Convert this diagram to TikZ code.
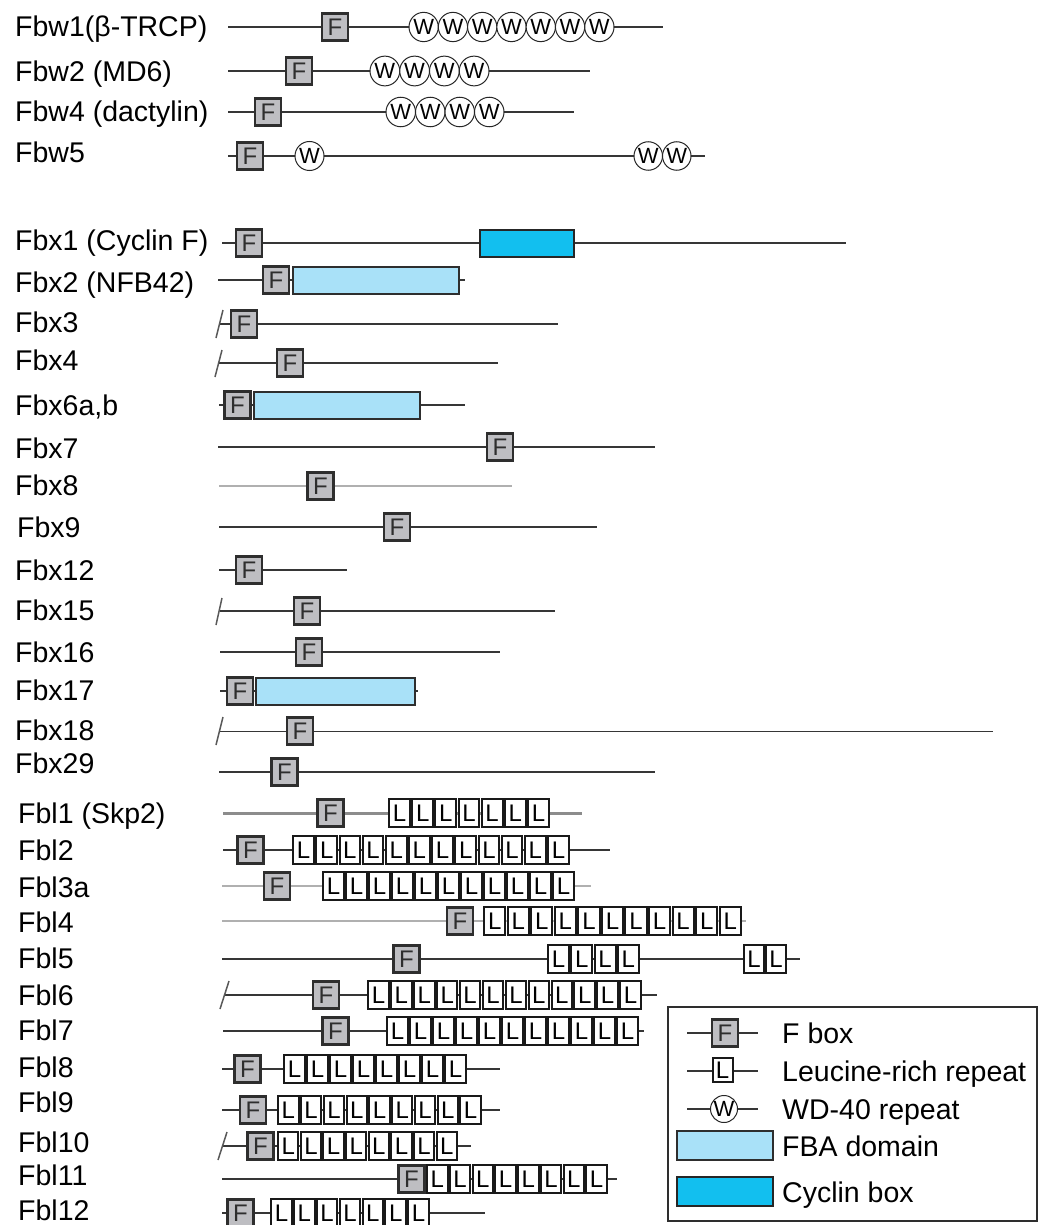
\documentclass[tikz,border=0pt]{standalone}
\usepackage{fontspec}
\setmainfont{Liberation Sans}
\usetikzlibrary{shapes.geometric}
\definecolor{fgray}{HTML}{BEBEC2}
\definecolor{fedge}{HTML}{2E2E2E}
\definecolor{fbacol}{HTML}{A9E1F8}
\definecolor{cyccol}{HTML}{12BFEF}
\definecolor{linecol}{HTML}{363636}
\definecolor{lightline}{HTML}{B0B0B0}
\definecolor{midline}{HTML}{8C8C8C}
\newcommand\backbone[5]{\coordinate (#1s) at (#2,#4); \coordinate (#1e) at (#3,#4); \draw[bb,#5] (#1s) -- (#1e);}
\newcommand\fdom[3]{\node[fbx] (#1F) at (#2,#3) {F};}
\newcommand\lrep[5]{\pgfmathsetmacro\lp{(#3-#2)/#4}\foreach \i in {1,...,#4}{\node[lbx,minimum width=\lp pt-2.4pt] (#1L\i) at ({#2+(\i-0.5)*\lp},#5) {L};}}
\newcommand\wrep[5]{\pgfmathsetmacro\wp{(#3-#2)/#4}\foreach \i in {1,...,#4}{\node[wcirc,minimum size=\wp pt] (#1W\i) at ({#2+(\i-0.5)*\wp},#5) {W};}}
\newcommand\brk[5]{\coordinate (#1a) at (#2,#3); \coordinate (#1b) at (#4,#5); \draw[slashln] (#1a) -- (#1b);}
\begin{document}
\begin{tikzpicture}[x=1pt,y=-1pt,
  lab/.style={anchor=base west,inner sep=0pt,font=\fontsize{28.5}{30}\selectfont},
  bb/.style={draw=linecol,line width=2.2pt},
  fbx/.style={draw=fedge,fill=fgray,line width=2.2pt,minimum width=26pt,minimum height=27pt,inner sep=0pt,font=\fontsize{24}{24}\selectfont,text=fedge},
  lbx/.style={draw=black!90,fill=white,line width=2pt,minimum height=28pt,inner sep=0pt,font=\fontsize{24}{24}\selectfont},
  wcirc/.style={circle,draw=black!85,fill=white,line width=1pt,inner sep=0pt,font=\fontsize{22}{22}\selectfont},
  fba/.style={draw=fedge,fill=fbacol,line width=2pt,minimum height=27pt,inner sep=0pt},
  cyc/.style={draw=black!85,fill=cyccol,line width=2pt,minimum height=27pt,inner sep=0pt},
  slashln/.style={draw=black!65,line width=1.5pt},
  legbox/.style={draw=fedge,line width=1.5pt}]
\useasboundingbox (0,0) rectangle (1039,1225);
% ---------- Fbw ----------
\node[lab] (fbw1lab) at (15,37) {Fbw1(β-TRCP)};
\backbone{fbw1}{228}{663}{27}{line width=2.6pt}
\fdom{fbw1}{335}{27}
\wrep{fbw1}{409}{614}{7}{27}
\node[lab] (fbw2lab) at (15,82) {Fbw2 (MD6)};
\backbone{fbw2}{228}{590}{71}{line width=1.5pt}
\fdom{fbw2}{299}{71}
\wrep{fbw2}{370}{489}{4}{71}
\node[lab] (fbw4lab) at (15,122) {Fbw4 (dactylin)};
\backbone{fbw4}{228}{574}{112}{}
\fdom{fbw4}{268}{112}
\wrep{fbw4}{386}{504}{4}{112}
\node[lab] (fbw5lab) at (15,163) {Fbw5};
\backbone{fbw5}{228}{705}{156}{line width=1.6pt}
\fdom{fbw5}{250}{156}
\wrep{fbw5a}{295}{324}{1}{156}
\wrep{fbw5b}{634}{691}{2}{156}
% ---------- Fbx ----------
\node[lab] (fbx1lab) at (15,250) {Fbx1 (Cyclin F)};
\backbone{fbx1}{222}{846}{243}{}
\fdom{fbx1}{249}{243}
\node[cyc,minimum width=94pt] (fbx1C) at (527,243) {};
\node[lab] (fbx2lab) at (15,292) {Fbx2 (NFB42)};
\backbone{fbx2}{218}{465}{280}{line width=1.5pt}
\fdom{fbx2}{276}{280}
\node[fba,minimum width=166pt] (fbx2A) at (376,280) {};
\node[lab] (fbx3lab) at (15,332) {Fbx3};
\backbone{fbx3}{220}{558}{324}{}
\brk{fbx3}{216}{338}{223}{310}
\fdom{fbx3}{244}{324}
\node[lab] (fbx4lab) at (15,370) {Fbx4};
\backbone{fbx4}{218}{498}{363}{line width=1.6pt}
\brk{fbx4}{215}{377}{222}{350}
\fdom{fbx4}{290}{363}
\node[lab] (fbx6lab) at (15,415) {Fbx6a,b};
\backbone{fbx6}{219}{465}{405}{line width=1.6pt}
\fdom{fbx6}{237.5}{405}
\node[fba,minimum width=166pt] (fbx6A) at (337,405) {};
\node[lab] (fbx7lab) at (15,458) {Fbx7};
\backbone{fbx7}{218}{655}{447}{line width=2.6pt}
\fdom{fbx7}{500}{447}
\node[lab] (fbx8lab) at (15,495) {Fbx8};
\backbone{fbx8}{219}{512}{486}{draw=lightline,line width=2.6pt}
\fdom{fbx8}{320.5}{486}
\node[lab] (fbx9lab) at (17,537) {Fbx9};
\backbone{fbx9}{219}{597}{527}{}
\fdom{fbx9}{397}{527}
\node[lab] (fbx12lab) at (15,580) {Fbx12};
\backbone{fbx12}{219}{347}{570}{line width=2.6pt}
\fdom{fbx12}{249}{570}
\node[lab] (fbx15lab) at (15,620) {Fbx15};
\backbone{fbx15}{220}{555}{611}{line width=1.8pt}
\brk{fbx15}{216}{625}{222}{598}
\fdom{fbx15}{307}{611}
\node[lab] (fbx16lab) at (15,662) {Fbx16};
\backbone{fbx16}{220}{500}{652}{}
\fdom{fbx16}{309}{652}
\node[lab] (fbx17lab) at (15,700) {Fbx17};
\backbone{fbx17}{220}{418}{691}{line width=1.5pt}
\fdom{fbx17}{240}{691}
\node[fba,minimum width=159pt] (fbx17A) at (335.5,691) {};
\node[lab] (fbx18lab) at (15,740) {Fbx18};
\backbone{fbx18}{220}{993}{731}{line width=1pt}
\brk{fbx18}{216}{745}{223}{717}
\fdom{fbx18}{300}{731}
\node[lab] (fbx29lab) at (15,773) {Fbx29};
\backbone{fbx29}{219}{655}{772}{line width=2.6pt}
\fdom{fbx29}{284.5}{772}
% ---------- Fbl ----------
\node[lab] (fbl1lab) at (18,823) {Fbl1 (Skp2)};
\backbone{fbl1}{223}{582}{813}{draw=midline,line width=3pt}
\fdom{fbl1}{330.5}{813}
\lrep{fbl1}{388}{550}{7}{813}
\node[lab] (fbl2lab) at (18,860) {Fbl2};
\backbone{fbl2}{223}{610}{850}{}
\fdom{fbl2}{250.5}{850}
\lrep{fbl2}{292}{570}{12}{850}
\node[lab] (fbl3lab) at (18,897) {Fbl3a};
\backbone{fbl3}{222}{591}{886}{draw=lightline}
\fdom{fbl3}{277}{886}
\lrep{fbl3}{322}{575}{11}{886}
\node[lab] (fbl4lab) at (18,932) {Fbl4};
\backbone{fbl4}{222}{746}{921}{draw=lightline}
\fdom{fbl4}{460}{921}
\lrep{fbl4}{483}{742}{11}{921}
\node[lab] (fbl5lab) at (18,968) {Fbl5};
\backbone{fbl5}{222}{800}{959}{line width=2.6pt}
\fdom{fbl5}{406.5}{959}
\lrep{fbl5a}{547}{640}{4}{959}
\lrep{fbl5b}{743}{787}{2}{959}
\node[lab] (fbl6lab) at (18,1005) {Fbl6};
\backbone{fbl6}{224}{657}{995}{}
\brk{fbl6}{220}{1009}{229}{981}
\fdom{fbl6}{326}{995}
\lrep{fbl6}{367}{642}{12}{995}
\node[lab] (fbl7lab) at (18,1040) {Fbl7};
\backbone{fbl7}{223}{644}{1031}{line width=1.6pt}
\fdom{fbl7}{335.5}{1031}
\lrep{fbl7}{386}{639}{11}{1031}
\node[lab] (fbl8lab) at (18,1077) {Fbl8};
\backbone{fbl8}{222}{500}{1069}{line width=2.6pt}
\fdom{fbl8}{247.5}{1069}
\lrep{fbl8}{283}{467}{8}{1069}
\node[lab] (fbl9lab) at (18,1112) {Fbl9};
\backbone{fbl9}{222}{500}{1110}{line width=2.6pt}
\fdom{fbl9}{253}{1110}
\lrep{fbl9}{277}{482}{9}{1110}
\node[lab] (fbl10lab) at (18,1152) {Fbl10};
\backbone{fbl10}{223}{471}{1146}{}
\brk{fbl10}{218}{1160}{227}{1132}
\fdom{fbl10}{260.5}{1146}
\lrep{fbl10}{277}{458}{8}{1146}
\node[lab] (fbl11lab) at (18,1185) {Fbl11};
\backbone{fbl11}{222}{617}{1179}{}
\fdom{fbl11}{411.5}{1179}
\lrep{fbl11}{426}{608}{8}{1179}
\node[lab] (fbl12lab) at (18,1220) {Fbl12};
\backbone{fbl12}{222}{485}{1213}{}
\fdom{fbl12}{240.5}{1213}
\lrep{fbl12}{270}{430}{7}{1213}
% ---------- Legend ----------
\node[legbox,minimum width=369pt,minimum height=214pt,inner sep=0pt] (legend) at (852.5,1114) {};
\coordinate (lgFa) at (687,1033); \coordinate (lgFb) at (758,1033);
\draw[bb,line width=1.5pt] (lgFa) -- (lgFb);
\node[fbx] (lgF) at (725,1033) {F};
\node[lab] (lgFt) at (782,1043) {F box};
\coordinate (lgLa) at (687,1071); \coordinate (lgLb) at (758,1071);
\draw[bb,line width=1.5pt] (lgLa) -- (lgLb);
\node[lbx,minimum width=20pt,minimum height=24pt] (lgL) at (722.5,1070) {L};
\node[lab] (lgLt) at (782,1081) {Leucine-rich repeat};
\coordinate (lgWa) at (687,1109); \coordinate (lgWb) at (758,1109);
\draw[bb,line width=1.5pt] (lgWa) -- (lgWb);
\node[wcirc,minimum size=27pt] (lgW) at (724,1109) {W};
\node[lab] (lgWt) at (782,1119) {WD-40 repeat};
\node[fba,minimum width=96pt,minimum height=29pt] (lgA) at (725,1145.5) {};
\node[lab] (lgAt) at (782,1156) {FBA domain};
\node[cyc,minimum width=96pt,minimum height=29pt] (lgC) at (725,1191.5) {};
\node[lab] (lgCt) at (782,1202) {Cyclin box};
\end{tikzpicture}
\end{document}
